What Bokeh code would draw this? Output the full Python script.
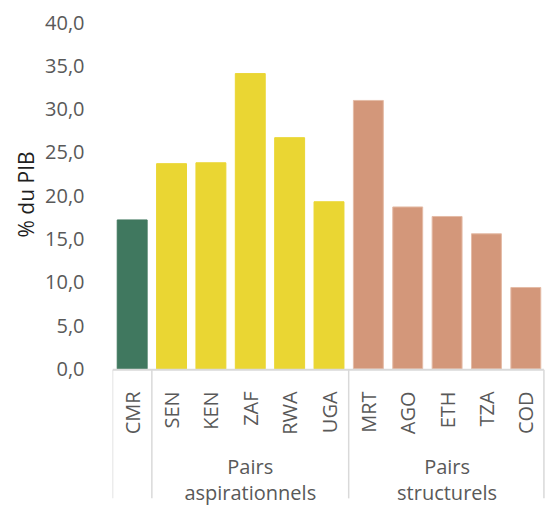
from bokeh.plotting import figure
from bokeh.models import (ColumnDataSource, FactorRange, Range1d, FixedTicker,
                          CustomJSTickFormatter, Title)
from bokeh.core.properties import value
from bokeh.embed import file_html
from bokeh.resources import INLINE
import math

# Tax revenue (% of GDP): Cameroon and its peer countries
codes = ["CMR", "SEN", "KEN", "ZAF", "RWA", "UGA", "MRT", "AGO", "ETH", "TZA", "COD"]
values = [17.2, 23.7, 23.8, 34.1, 26.7, 19.3, 31.0, 18.7, 17.6, 15.6, 9.4]
groups = ["", "Pairs aspirationnels", "Pairs aspirationnels", "Pairs aspirationnels",
          "Pairs aspirationnels", "Pairs aspirationnels", "Pairs structurels",
          "Pairs structurels", "Pairs structurels", "Pairs structurels", "Pairs structurels"]
y_ticks = [0, 5, 10, 15, 20, 25, 30, 35, 40]

group_fill = {"": "#40785F", "Pairs aspirationnels": "#EAD633", "Pairs structurels": "#D3977A"}
group_line = {"": "#40785F", "Pairs aspirationnels": "#EAD633", "Pairs structurels": "#E4BBA6"}

FONT = "Open Sans"
TEXT_COLOR = "#595959"
RULE_COLOR = "#D9D9D9"

# y range extends below zero so the category box sits inside the frame
Y_TOP = 40
PX_PER_UNIT = 8.66
FRAME_H = 484
Y_BOTTOM = Y_TOP - FRAME_H / PX_PER_UNIT

p = figure(width=545, height=506, output_backend="svg", toolbar_location=None,
           x_range=FactorRange(factors=codes, range_padding=0),
           y_range=Range1d(Y_BOTTOM, Y_TOP),
           min_border_left=112, min_border_right=0, min_border_top=22, min_border_bottom=0,
           x_axis_location=None)
p.outline_line_color = None
p.xgrid.visible = False
p.ygrid.visible = False
p.background_fill_color = "white"
p.border_fill_color = "white"

yax = p.yaxis[0]
yax.ticker = FixedTicker(ticks=y_ticks)
yax.formatter = CustomJSTickFormatter(code="return tick.toFixed(1).replace('.', ',');")
yax.axis_line_color = None
yax.major_tick_line_color = None
yax.minor_tick_line_color = None
yax.major_label_standoff = 22
yax.major_label_text_font = FONT
yax.major_label_text_font_size = "20px"
yax.major_label_text_color = TEXT_COLOR

src = ColumnDataSource(dict(
    code=codes, val=values,
    fill=[group_fill[g] for g in groups],
    line=[group_line[g] for g in groups],
))
p.vbar(x="code", top="val", bottom=0, width=0.76, source=src,
       fill_color="fill", line_color="line", line_width=1)

# category box: baseline rule and separators between groups
n = len(codes)
bounds = [0]
for i in range(1, n):
    if groups[i] != groups[i - 1]:
        bounds.append(i)
bounds.append(n - 0.04)

box_bottom = -14.95
p.segment(x0=[0], y0=[-0.1], x1=[n - 0.04], y1=[-0.1], line_color=RULE_COLOR, line_width=2)
p.segment(x0=bounds, y0=[-0.1] * len(bounds), x1=bounds, y1=[box_bottom] * len(bounds),
          line_color=RULE_COLOR, line_width=1.5)

# rotated country codes
p.text(x=[i + 0.5 for i in range(n)], y=[-2.6] * n, text=codes, angle=math.pi / 2,
       text_align="right", text_baseline="middle", text_font=value(FONT),
       text_font_size="20px", text_color=TEXT_COLOR)

# group names centred under their span, on two lines
gx, line1, line2 = [], [], []
start = 0
for i in range(1, n + 1):
    if i == n or groups[i] != groups[start]:
        if groups[start]:
            first, second = groups[start].split(" ", 1)
            gx.append((start + i) / 2)
            line1.append(first)
            line2.append(second)
        start = i
p.text(x=gx, y=[-11.27] * len(gx), text=line1, text_align="center", text_baseline="middle",
       text_font=value(FONT), text_font_size="20px", text_color=TEXT_COLOR)
p.text(x=gx, y=[-14.27] * len(gx), text=line2, text_align="center", text_baseline="middle",
       text_font=value(FONT), text_font_size="20px", text_color=TEXT_COLOR)

# y-axis title, centred on the 0-40 value scale rather than the whole frame
p.add_layout(Title(text="% du PIB", align="left", offset=269, standoff=6,
                   text_font=FONT, text_font_size="21px", text_font_style="normal",
                   text_color="#1F1F1F"), "left")

open("out.html", "w").write(file_html(p, INLINE))
